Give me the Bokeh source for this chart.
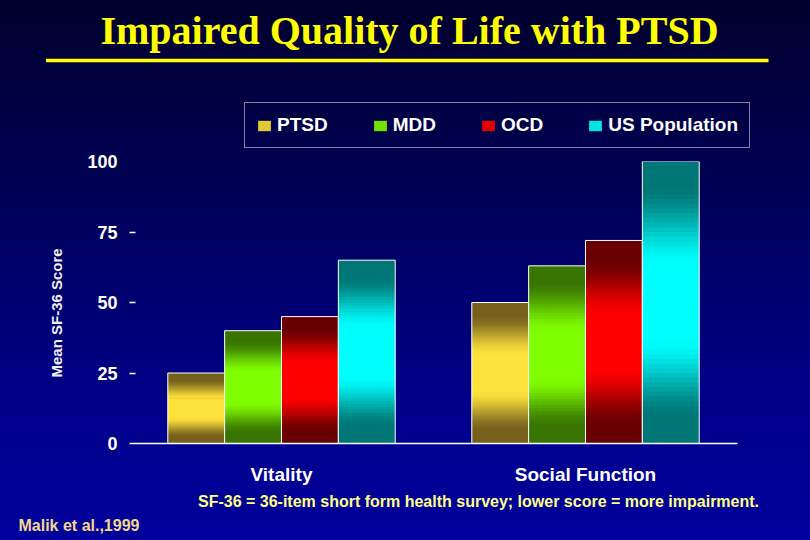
import numpy as np
from jinja2 import Template
from bokeh.plotting import figure
from bokeh.models import (FactorRange, Range1d, FixedTicker, Legend, LegendItem,
                          ColumnDataSource, Label, BoxAnnotation)
from bokeh.transform import dodge
from bokeh.layouts import column
from bokeh.embed import file_html
from bokeh.resources import INLINE

# ---------------- data ----------------
categories = ["Vitality", "Social Function"]
series_names = ["PTSD", "MDD", "OCD", "US Population"]
ptsd = [25, 50]
mdd = [40, 63]
ocd = [45, 72]
us_population = [65, 100]
y_ticks = [0, 25, 50, 75, 100]
title_text = "Impaired Quality of Life with PTSD"
y_label = "Mean SF-36 Score"
note_text = "SF-36 = 36-item short form health survey; lower score = more impairment."
source_text = "Malik et al.,1999"

# ---------------- styles ----------------
dark_colors = ["#76601c", "#387400", "#680000", "#007676"]
bright_colors = ["#fde23c", "#80ff00", "#ff0000", "#00ffff"]
series_values = [ptsd, mdd, ocd, us_population]
FONT = "Liberation Sans"
W = 810
TITLE_H, MAIN_H, FOOT_H = 152, 338, 50
N_SLICES = 60
BAR_W = 0.187


def hex_rgb(h):
    h = h.lstrip("#")
    return np.array([int(h[i:i + 2], 16) for i in (0, 2, 4)], dtype=float)


def mix(c1, c2, f):
    a, b = hex_rgb(c1), hex_rgb(c2)
    c = a + (b - a) * f
    return "#%02x%02x%02x" % tuple(int(round(v)) for v in c)


def brightness(t):
    d = abs(t - 0.5)
    x = float(np.clip((0.42 - d) / 0.30, 0.0, 1.0))
    return x * x * (3 - 2 * x)


def no_align(f):
    if "frame_align" in f.properties():
        f.frame_align = False


def blank_fig(h):
    f = figure(width=W, height=h, x_range=Range1d(0, W), y_range=Range1d(0, h),
               x_axis_type=None, y_axis_type=None, toolbar_location=None,
               output_backend="svg", min_border_left=0, min_border_right=0,
               min_border_top=0, min_border_bottom=0)
    f.grid.visible = False
    f.outline_line_color = None
    f.background_fill_alpha = 0
    f.border_fill_alpha = 0
    no_align(f)
    return f


# ---------------- title + legend figure ----------------
pt = blank_fig(TITLE_H)
pt.add_layout(Label(x=409, y=TITLE_H - 30, text=title_text, text_align="center",
                    text_baseline="middle", text_font="Liberation Serif",
                    text_font_style="bold", text_font_size="40px",
                    text_color="#ffff00"))
pt.add_layout(BoxAnnotation(left=45.5, right=768, bottom=TITLE_H - 61.7,
                            top=TITLE_H - 58.3, fill_color="#ffff00",
                            fill_alpha=1, line_color=None))

# legend swatches: zero-size placeholder bars carrying each series' colour
items = []
for i, name in enumerate(series_names):
    sw_src = ColumnDataSource(dict(x=[0], top=[0]))
    sw = pt.vbar(x="x", top="top", bottom=0, width=0, source=sw_src,
                 fill_color=mix(dark_colors[i], bright_colors[i], 0.8),
                 line_color=None)
    items.append(LegendItem(label=name, renderers=[sw]))

legend = Legend(items=items, orientation="horizontal", location=(244, TITLE_H - 148),
                border_line_color="white", border_line_width=1,
                background_fill_alpha=0, label_text_color="white",
                label_text_font=FONT, label_text_font_style="bold",
                label_text_font_size="19px", glyph_width=16, glyph_height=13,
                label_standoff=5, spacing=44, padding=11, margin=0)
pt.add_layout(legend)

# ---------------- main figure ----------------
p = figure(width=W, height=MAIN_H,
           x_range=FactorRange(*categories, range_padding=0),
           y_range=Range1d(0, 100),
           toolbar_location=None, output_backend="svg",
           min_border_left=129, min_border_right=73,
           min_border_top=9, min_border_bottom=47)
p.grid.visible = False
p.outline_line_color = None
p.background_fill_alpha = 0
p.border_fill_alpha = 0
no_align(p)

for i, (name, vals) in enumerate(zip(series_names, series_values)):
    off = (i - 1.5) * BAR_W
    xs, bots, tops, cols = [], [], [], []
    for cat, v in zip(categories, vals):
        for j in range(N_SLICES):
            t = 1 - (j + 0.5) / N_SLICES
            xs.append(cat)
            bots.append(v * j / N_SLICES)
            tops.append(min(v, v * (j + 1.6) / N_SLICES))
            cols.append(mix(dark_colors[i], bright_colors[i], brightness(t)))
    src = ColumnDataSource(dict(x=xs, bottom=bots, top=tops, color=cols))
    p.vbar(x=dodge("x", off, range=p.x_range), bottom="bottom", top="top",
           width=BAR_W, fill_color="color", line_color=None, source=src)
    osrc = ColumnDataSource(dict(x=categories, top=vals))
    p.vbar(x=dodge("x", off, range=p.x_range), bottom=0, top="top", width=BAR_W,
           fill_color=None, line_color="white", line_width=1, source=osrc)

ya = p.yaxis[0]
ya.ticker = FixedTicker(ticks=y_ticks, minor_ticks=y_ticks[1:-1])
ya.axis_line_color = None
ya.major_tick_line_color = None
ya.major_tick_in = 0
ya.major_tick_out = 0
ya.minor_tick_line_color = "white"
ya.minor_tick_line_width = 1.5
ya.minor_tick_in = 6
ya.minor_tick_out = 0
ya.major_label_standoff = 12
ya.major_label_text_font = FONT
ya.major_label_text_font_style = "bold"
ya.major_label_text_font_size = "18px"
ya.major_label_text_color = "white"
# trailing non-breaking spaces nudge the centred label down, as in the original
ya.axis_label = y_label + "\u00a0" * 5
ya.axis_label_text_font = FONT
ya.axis_label_text_font_style = "bold"
ya.axis_label_text_font_size = "15px"
ya.axis_label_text_color = "#f0f0f0"
ya.axis_label_standoff = 19

xa = p.xaxis[0]
xa.axis_line_color = "white"
xa.axis_line_width = 1.5
xa.major_tick_line_color = None
xa.major_tick_in = 0
xa.major_tick_out = 0
xa.minor_tick_line_color = None
xa.major_label_standoff = 20
xa.major_label_text_font = FONT
xa.major_label_text_font_style = "bold"
xa.major_label_text_font_size = "19px"
xa.major_label_text_color = "white"

# ---------------- footer figure ----------------
pf = blank_fig(FOOT_H)
pf.add_layout(Label(x=478, y=FOOT_H - 11, text=note_text, text_align="center",
                    text_baseline="middle", text_font=FONT, text_font_style="bold",
                    text_font_size="16px", text_color="#ffff88"))
pf.add_layout(Label(x=18, y=FOOT_H - 35, text=source_text, text_align="left",
                    text_baseline="middle", text_font=FONT, text_font_style="bold",
                    text_font_size="16px", text_color="#f2d88c"))

layout = column(pt, p, pf, spacing=0)

tmpl = Template("""{% extends base %}
{% block preamble %}<style>html,body{margin:0;padding:0;}html{background:linear-gradient(to bottom,#00002c 0%,#000056 35%,#00008a 75%,#00009c 100%);min-height:100%;}body{background:transparent;}</style>{% endblock %}
""")

open("out.html", "w").write(file_html(layout, INLINE, template=tmpl))
